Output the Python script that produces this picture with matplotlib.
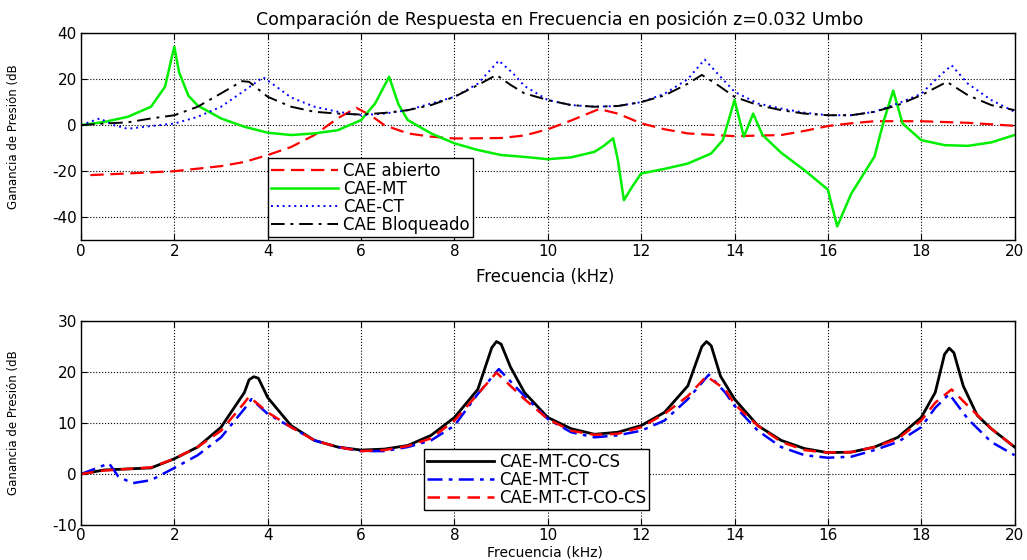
import matplotlib
matplotlib.use("Agg")
import matplotlib.pyplot as plt

# Top panel: frequency (kHz) and gain (dB) for each model
abierto_f = [0.2, 1, 2, 3, 3.5, 4, 4.5, 5, 5.5, 5.9, 6.2, 6.5, 7, 7.5, 8, 9, 9.5, 10,
             10.5, 11.1, 11.5, 12, 12.5, 13, 14, 15, 15.5, 16, 16.5, 17, 18, 19, 20]
abierto_db = [-21.7, -21, -20, -17.8, -16, -13, -9.5, -4.3, 3, 7.5, 4.3, 0, -3.6, -5, -5.8,
              -5.6, -4.5, -1.8, 2, 7, 5, 0.8, -1.8, -3.6, -4.8, -4.3, -2.5, -0.4, 0.8, 1.7,
              1.7, 1, -0.3]

mt_f = [0, 0.5, 1, 1.5, 1.8, 1.95, 2.0, 2.1, 2.3, 2.5, 3, 3.5, 4, 4.5, 5, 5.5, 6, 6.3,
        6.6, 6.8, 7, 7.5, 8, 8.5, 9, 9.5, 10, 10.5, 11, 11.2, 11.4, 11.5, 11.63, 11.8, 12,
        12.5, 13, 13.5, 13.75, 14.0, 14.2, 14.4, 14.6, 15, 15.5, 16, 16.2, 16.5, 17, 17.2,
        17.4, 17.6, 18, 18.5, 19, 19.5, 20]
mt_db = [0, 1.4, 3.6, 8, 16.7, 30, 34, 23, 12.8, 8.5, 2.9, -0.7, -3.3, -4.3, -3.6, -2.2,
         2.2, 9.4, 21, 9, 2.2, -3.6, -7.9, -10.8, -13, -13.8, -14.8, -14, -11.6, -9, -5.7,
         -15, -32.6, -27, -21, -19, -16.7, -12.3, -6.5, 10.9, -5, 5, -4.3, -12, -19.6, -28,
         -44, -29.8, -13.6, 2, 15, 0.7, -6.5, -8.7, -9, -7.5, -4.3]

ct_f = [0, 0.4, 0.7, 1.0, 1.5, 2, 2.5, 3, 3.5, 3.9, 4.2, 4.5, 5, 5.5, 6, 6.5, 7, 7.5, 8,
        8.5, 8.95, 9.25, 9.5, 10, 10.5, 11, 11.5, 12, 12.5, 13, 13.36, 13.7, 14, 14.5, 15,
        15.5, 16, 16.5, 17, 17.5, 18, 18.3, 18.65, 19, 19.5, 20]
ct_db = [0, 2.9, 0, -1.6, -0.4, 0.7, 3.6, 8, 15, 20.8, 16.5, 12, 8, 5.8, 4.3, 5, 6.5, 9.4,
         12.3, 18, 28, 22.6, 17, 10.9, 8.7, 8, 8.3, 10, 13.6, 20, 28.5, 21, 14.5, 9.4, 7.2,
         5.4, 4.3, 4.3, 5.8, 9.4, 13.6, 19.6, 26, 18, 10.9, 5.8]

bloq_f = [0, 0.5, 1, 1.5, 2, 2.5, 3, 3.45, 3.6, 4, 4.5, 5, 5.5, 6, 6.5, 7, 7.5, 8, 8.5,
          8.9, 9.2, 9.5, 10, 10.5, 11, 11.5, 12, 12.5, 13, 13.3, 13.6, 14, 14.5, 15, 15.5,
          16, 16.5, 17, 17.5, 18, 18.55, 19, 19.5, 20]
bloq_db = [0, 0.7, 1.2, 2.9, 4.3, 8, 13.8, 19.1, 18.8, 12.3, 8, 5.8, 5, 4.6, 5.3, 6.5, 8.7,
           12.3, 17.4, 21.8, 17.5, 13.8, 10.9, 8.7, 8, 8.3, 10, 12.9, 18, 21.8, 18, 12.3,
           8.7, 6.5, 5, 4.3, 4.3, 5.8, 8.7, 13, 18.8, 13, 8.7, 6.5]

# Bottom panel
coc_f = [0, 0.5, 1, 1.5, 2, 2.5, 3, 3.5, 3.6, 3.7, 3.8, 4, 4.5, 5, 5.5, 6, 6.5, 7, 7.5, 8,
         8.5, 8.8, 8.9, 9.0, 9.2, 9.5, 10, 10.5, 11, 11.5, 12, 12.5, 13, 13.3, 13.4, 13.5,
         13.7, 14, 14.5, 15, 15.5, 16, 16.5, 17, 17.5, 18, 18.3, 18.5, 18.6, 18.7, 18.9,
         19.2, 19.5, 20]
coc_db = [0, 0.8, 1, 1.2, 3, 5.3, 9.2, 16, 18.5, 19.1, 18.8, 15, 9.5, 6.6, 5.3, 4.7, 4.9,
          5.6, 7.6, 11.1, 16.6, 24.8, 26, 25.5, 21, 16, 11.1, 8.9, 7.8, 8.2, 9.5, 12.1, 17.3,
          25, 26, 25.2, 19.2, 14.7, 9.5, 6.6, 5, 4.2, 4.3, 5.3, 7.2, 11.1, 16, 23.5, 24.7,
          23.8, 17.3, 11.5, 8.9, 5.3]

mtct_f = [0, 0.6, 0.8, 1.1, 1.5, 2, 2.5, 3, 3.5, 3.65, 4, 4.5, 5, 5.5, 6, 6.5, 7, 7.5, 8,
          8.5, 8.95, 9.5, 10, 10.5, 11, 11.5, 12, 12.5, 13, 13.45, 13.8, 14, 14.5, 15, 15.5,
          16, 16.5, 17, 17.5, 18, 18.3, 18.6, 19, 19.5, 20]
mtct_db = [0, 2.1, -0.5, -1.8, -1.2, 1.2, 3.7, 7.2, 12.8, 14.7, 11.8, 9.2, 6.6, 5.3, 4.5,
           4.5, 5.3, 6.6, 9.5, 15.7, 20.6, 15.3, 10.8, 8.2, 7.2, 7.6, 8.5, 10.5, 14.7, 19.5,
           16, 13.4, 8.5, 5.3, 3.7, 3.2, 3.4, 4.7, 6.3, 9.2, 13, 15.7, 10.8, 6.3, 3.7]

full_f = [0, 0.5, 1, 1.5, 2, 2.5, 3, 3.5, 3.6, 4, 4.5, 5, 5.5, 6, 6.5, 7, 7.5, 8, 8.5, 8.9,
          9.5, 10, 10.5, 11, 11.5, 12, 12.5, 13, 13.4, 13.8, 14, 14.5, 15, 15.5, 16, 16.5,
          17, 17.5, 18, 18.3, 18.65, 19, 19.5, 20]
full_db = [0, 0.7, 1, 1.3, 3, 5.3, 8.5, 14, 15.2, 12.1, 9.2, 6.6, 5.3, 4.5, 4.7, 5.5, 7,
           10.5, 15.7, 19.9, 14.7, 10.8, 8.5, 7.7, 7.9, 9.2, 11.8, 15.3, 19.2, 16.6, 13.7,
           9.5, 6.3, 4.7, 4.2, 4.3, 5.3, 6.9, 10.5, 14, 16.6, 13.4, 8.9, 5.3]

plt.rcParams['font.family'] = ['DejaVu Sans']
plt.rcParams['axes.unicode_minus'] = False

fig = plt.figure(figsize=(10.27, 5.6), dpi=100)
ax1 = fig.add_axes([0.0789, 0.571, 0.909, 0.370])
ax2 = fig.add_axes([0.0789, 0.0625, 0.909, 0.364])

ax1.plot(abierto_f, abierto_db, color='red', lw=1.6, dashes=(6, 3), label='CAE abierto')
ax1.plot(mt_f, mt_db, color='#00ee00', lw=1.8, label='CAE-MT')
ax1.plot(ct_f, ct_db, color='blue', lw=1.4, linestyle=(0, (1, 2)), label='CAE-CT')
ax1.plot(bloq_f, bloq_db, color='black', lw=1.4, dashes=(7, 3, 1.5, 3), label='CAE Bloqueado')

ax2.plot(coc_f, coc_db, color='black', lw=2.0, label='CAE-MT-CO-CS')
ax2.plot(mtct_f, mtct_db, color='blue', lw=1.8, dashes=(6, 2.5, 1.5, 2.5), label='CAE-MT-CT')
ax2.plot(full_f, full_db, color='red', lw=1.8, dashes=(5, 3), label='CAE-MT-CT-CO-CS')

for ax in (ax1, ax2):
    ax.set_xlim(0, 20)
    ax.set_xticks(range(0, 21, 2))
    ax.grid(True, color='black', linestyle=':', linewidth=0.8)
    ax.tick_params(direction='in', top=True, right=True, labelsize=11, length=4, pad=3)
    for s in ax.spines.values():
        s.set_linewidth(1.0)
    ax.set_ylabel('Ganancia de Presión (dB', fontsize=8.5)
    ax.yaxis.set_label_coords(-0.065, 0.5)

ax1.set_ylim(-50, 40)
ax1.set_yticks([-40, -20, 0, 20, 40])
ax1.set_xlabel('Frecuencia (kHz)', fontsize=12)
ax1.xaxis.set_label_coords(0.497, -0.135)
ax1.set_title('Comparación de Respuesta en Frecuencia en posición z=0.032 Umbo',
              fontsize=12.5, x=0.513, pad=6)

ax2.set_ylim(-10, 30)
ax2.set_yticks([-10, 0, 10, 20, 30])
ax2.tick_params(axis='x', pad=2)
ax2.set_xlabel('Frecuencia (kHz)', fontsize=10, va='bottom')
ax2.xaxis.set_label_coords(0.497, -0.168)

leg_kw = dict(fancybox=False, framealpha=1, edgecolor='black', fontsize=12,
              handlelength=4.0, labelspacing=0.0, borderpad=0.2, handletextpad=0.3,
              borderaxespad=0)
l1 = ax1.legend(loc='lower left', bbox_to_anchor=(0.2, 0.015), **leg_kw)
l2 = ax2.legend(loc='lower left', bbox_to_anchor=(0.367, 0.073), **leg_kw)
for lg in (l1, l2):
    lg.get_frame().set_linewidth(1.0)

fig.savefig('out.png', dpi=100)
